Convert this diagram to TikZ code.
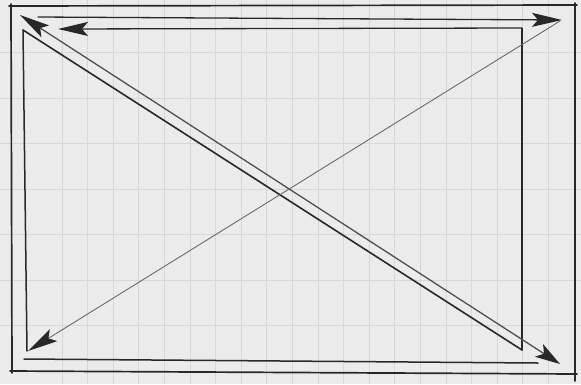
\documentclass[tikz,border=0pt]{standalone}
\usetikzlibrary{arrows.meta}
\definecolor{paper}{RGB}{235,235,235}
\definecolor{gridc}{RGB}{215,215,215}
\definecolor{ink}{RGB}{40,40,40}
\definecolor{inklight}{RGB}{105,105,105}
\tikzset{
  bigtip/.tip={Stealth[length=30pt,width=14pt,inset=6pt,color=ink]},
  midtip/.tip={Stealth[length=25pt,width=15pt,inset=6pt,color=ink]}
}
\begin{document}
\begin{tikzpicture}[x=1pt,y=-1pt,
  inkline/.style={draw=ink, line width=1.7pt, line cap=round},
  thinink/.style={draw=inklight, line width=0.9pt, line cap=round},
  gridline/.style={draw=gridc, line width=0.9pt}]
\fill[paper] (0,0) rectangle (581,384);
\useasboundingbox (0,0) rectangle (581,384);
% grid paper
\foreach \i in {1,...,20} \draw[gridline] ({36.5+25.6*\i},0) -- ++(0,384);
\foreach \j in {1,...,7} \draw[gridline] (0,{7+45.5*\j}) -- ++(581,0);
% named corner coordinates
\coordinate (otl) at (9,6);
\coordinate (otr) at (577,5);
\coordinate (olt) at (11,4);
\coordinate (olb) at (12,373);
\coordinate (obl) at (10,371);
\coordinate (obr) at (577,374);
\coordinate (ort) at (575,3);
\coordinate (orb) at (575,381);
\coordinate (topstart) at (38,17);
\coordinate (toptip) at (562,20);
\coordinate (itr) at (521,28);
\coordinate (itl) at (58,29);
\coordinate (irt) at (522,28);
\coordinate (irb) at (522,350);
\coordinate (ilt) at (23,30);
\coordinate (ilb) at (27,351);
\coordinate (ibl) at (24,359);
\coordinate (ibr) at (538,363);
\coordinate (dtl) at (20,15);
\coordinate (dbr) at (560,364);
\coordinate (ctr) at (560,21);
\coordinate (cbl) at (28,351);
% outer frame
\draw[inkline] (otl) -- (otr);
\draw[inkline] (olt) -- (olb);
\draw[inkline] (obl) -- (obr);
\draw[inkline] (ort) -- (orb);
% top arrow to the right
\draw[inkline, line width=1.3pt, -{bigtip}] (topstart) -- (toptip);
% inner rectangle
\draw[inkline, line width=1.3pt, -{bigtip}] (itr) -- (itl);
\draw[inkline, line width=1.4pt] (irt) -- (irb);
\draw[inkline, line width=1.5pt] (ilt) -- (ilb);
\draw[inkline, line width=1.5pt] (ibl) -- (ibr);
% diagonals
\draw[inkline, line width=1.6pt] (ilt) -- (irb);
\draw[inkline, draw=inklight!60!ink, line width=1.3pt, {bigtip}-{midtip}] (dtl) -- (dbr);
\draw[thinink, -{bigtip}] (ctr) -- (cbl);
\end{tikzpicture}
\end{document}
